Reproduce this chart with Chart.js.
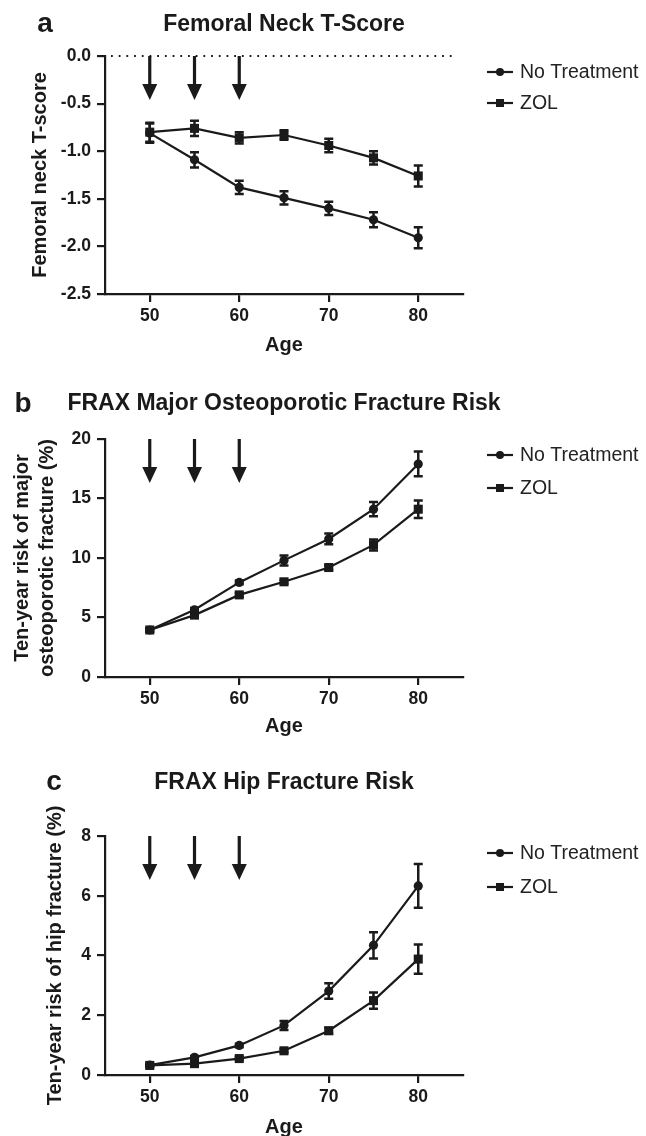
<!DOCTYPE html>
<html>
<head>
<meta charset="utf-8">
<script src="https://cdn.jsdelivr.net/npm/chart.js@4.4.0/dist/chart.umd.min.js"></script>
<style>
  html, body { margin: 0; padding: 0; background: #fff; overflow: hidden; }
  #page { position: relative; width: 646px; height: 1136px; }
  canvas { position: absolute; left: 0; }
</style>
</head>
<body>
<div id="page">
  <canvas id="panelA" width="646" height="380" style="top:0px"></canvas>
  <canvas id="panelB" width="646" height="380" style="top:380px"></canvas>
  <canvas id="panelC" width="646" height="400" style="top:760px"></canvas>
</div>
<script>
const ages = [50, 55, 60, 65, 70, 75, 80];
const treatmentAges = [50, 55, 60];
const ageTicks = [50, 60, 70, 80];
const seriesNames = ['No Treatment', 'ZOL'];

// a: femoral neck T-score (mean, error)
const tscoreNoTreatment = [-0.81, -1.09, -1.38, -1.49, -1.60, -1.72, -1.91];
const tscoreNoTreatmentErr = [0.10, 0.08, 0.07, 0.07, 0.07, 0.08, 0.11];
const tscoreZol = [-0.80, -0.76, -0.86, -0.83, -0.94, -1.07, -1.26];
const tscoreZolErr = [0.10, 0.08, 0.06, 0.05, 0.07, 0.07, 0.11];

// b: ten-year major osteoporotic fracture risk (%)
const mofNoTreatment = [3.95, 5.65, 7.95, 9.8, 11.6, 14.1, 17.9];
const mofNoTreatmentErr = [0.15, 0.15, 0.15, 0.42, 0.45, 0.6, 1.04];
const mofZol = [3.95, 5.2, 6.9, 8.0, 9.2, 11.1, 14.1];
const mofZolErr = [0.15, 0.15, 0.15, 0.15, 0.2, 0.46, 0.74];

// c: ten-year hip fracture risk (%)
const hipNoTreatment = [0.33, 0.59, 0.99, 1.66, 2.81, 4.34, 6.33];
const hipNoTreatmentErr = [0.05, 0.05, 0.06, 0.15, 0.26, 0.44, 0.73];
const hipZol = [0.32, 0.38, 0.55, 0.81, 1.48, 2.49, 3.88];
const hipZolErr = [0.05, 0.05, 0.05, 0.06, 0.1, 0.27, 0.49];

const INK = '#1a1a1a';
const FONT = "'Liberation Sans', Arial, sans-serif";

// error bars, arrows, zero line, titles and legend
const decorations = {
  id: 'decorations',
  beforeDatasetsDraw(chart) {
    const ctx = chart.ctx;
    const xs = chart.scales.x, ys = chart.scales.y;
    ctx.save();
    ctx.strokeStyle = INK;
    ctx.lineWidth = 2.5;
    chart.data.datasets.forEach(ds => {
      ds.data.forEach((p, i) => {
        const e = ds.errors[i];
        const x = xs.getPixelForValue(p.x);
        const y1 = ys.getPixelForValue(p.y + e);
        const y2 = ys.getPixelForValue(p.y - e);
        ctx.beginPath();
        ctx.moveTo(x, y1); ctx.lineTo(x, y2);
        ctx.moveTo(x - 4.5, y1); ctx.lineTo(x + 4.5, y1);
        ctx.moveTo(x - 4.5, y2); ctx.lineTo(x + 4.5, y2);
        ctx.stroke();
      });
    });
    ctx.restore();
  },
  afterDraw(chart, args, opts) {
    const ctx = chart.ctx;
    const area = chart.chartArea;
    const xs = chart.scales.x, ys = chart.scales.y;
    ctx.save();

    if (opts.zeroLine !== undefined) {
      const y = ys.getPixelForValue(opts.zeroLine);
      ctx.strokeStyle = INK;
      ctx.lineWidth = 1.8;
      ctx.setLineDash([1.8, 5.9]);
      ctx.beginPath();
      ctx.moveTo(area.left + 6, y); ctx.lineTo(area.right - 6, y);
      ctx.stroke();
      ctx.setLineDash([]);
    }

    // treatment arrows
    ctx.fillStyle = INK;
    ctx.strokeStyle = INK;
    treatmentAges.forEach(a => {
      const x = xs.getPixelForValue(a);
      const tip = area.top + 44;
      ctx.lineWidth = 3.2;
      ctx.beginPath();
      ctx.moveTo(x, area.top); ctx.lineTo(x, tip - 12);
      ctx.stroke();
      ctx.beginPath();
      ctx.moveTo(x - 7.5, tip - 16); ctx.lineTo(x + 7.5, tip - 16); ctx.lineTo(x, tip);
      ctx.closePath();
      ctx.fill();
    });

    // panel letter and title
    ctx.textBaseline = 'middle';
    ctx.fillStyle = INK;
    ctx.font = 'bold 28px ' + FONT;
    ctx.textAlign = 'center';
    ctx.fillText(opts.letter, opts.letterX, opts.letterY);
    ctx.font = 'bold 23px ' + FONT;
    ctx.fillText(opts.title, (area.left + area.right) / 2, opts.titleY);

    // legend
    ctx.font = '19.5px ' + FONT;
    ctx.textAlign = 'left';
    chart.data.datasets.forEach((ds, i) => {
      const y = opts.legendY[i];
      const x0 = area.right + 24;
      ctx.strokeStyle = INK;
      ctx.lineWidth = 2.2;
      ctx.beginPath();
      ctx.moveTo(x0, y); ctx.lineTo(x0 + 26, y);
      ctx.stroke();
      ctx.fillStyle = INK;
      if (ds.pointStyle === 'rect') {
        ctx.fillRect(x0 + 13 - 4, y - 4, 8, 8);
      } else {
        ctx.beginPath();
        ctx.arc(x0 + 13, y, 4, 0, Math.PI * 2);
        ctx.fill();
      }
      ctx.fillStyle = '#222';
      ctx.fillText(ds.label, x0 + 33, y + 1);
    });
    ctx.restore();
  }
};

function series(label, values, errors, style) {
  return {
    label: label,
    data: ages.map((a, i) => ({ x: a, y: values[i] })),
    errors: errors,
    borderColor: INK,
    backgroundColor: INK,
    borderWidth: 2.2,
    pointStyle: style,
    pointRadius: style === 'rect' ? 6.4 : 4.6,
    pointBorderWidth: 0,
    tension: 0
  };
}

function axisGrid() {
  return { drawOnChartArea: false, drawTicks: true, tickLength: 8, color: INK, lineWidth: 2.2 };
}

function buildPanel(id, p) {
  const canvas = document.getElementById(id);
  const padBottom = canvas.height - p.plotTop - p.plotHeight - p.xScaleHeight;
  return new Chart(canvas, {
    type: 'line',
    data: {
      datasets: [
        series(seriesNames[0], p.noTreatment, p.noTreatmentErr, 'circle'),
        series(seriesNames[1], p.zol, p.zolErr, 'rect')
      ]
    },
    options: {
      responsive: false,
      animation: false,
      layout: { padding: { left: 0, right: 183, top: p.plotTop, bottom: padBottom } },
      plugins: {
        legend: { display: false },
        tooltip: { enabled: false },
        decorations: {
          letter: p.letter, letterX: p.letterX, letterY: p.letterY,
          title: p.title, titleY: p.titleY,
          legendY: p.legendY, zeroLine: p.zeroLine
        }
      },
      scales: {
        x: {
          type: 'linear',
          min: 45, max: 85,
          afterBuildTicks: axis => { axis.ticks = ageTicks.map(v => ({ value: v })); },
          afterFit: s => { s.height = p.xScaleHeight; },
          grid: axisGrid(),
          border: { display: true, color: INK, width: 2.2 },
          ticks: { color: INK, padding: 4, font: { family: FONT, size: 17.5, weight: 'bold' } },
          title: { display: true, text: 'Age', color: INK, padding: 0,
                   font: { family: FONT, size: 20, weight: 'bold', lineHeight: 1.2 } }
        },
        y: {
          min: p.yMin, max: p.yMax,
          afterFit: s => { s.width = 105; },
          grid: axisGrid(),
          border: { display: true, color: INK, width: 2.2 },
          ticks: { color: INK, padding: 6, stepSize: p.yStep,
                   font: { family: FONT, size: 17.5, weight: 'bold' },
                   callback: v => p.yDecimals ? v.toFixed(p.yDecimals) : String(v) },
          title: { display: true, text: p.yTitle, color: INK, padding: { top: p.yTitlePad, bottom: 0 },
                   font: { family: FONT, size: 20, weight: 'bold', lineHeight: 1.25 } }
        }
      }
    },
    plugins: [decorations]
  });
}

buildPanel('panelA', {
  letter: 'a', letterX: 45, letterY: 24, title: 'Femoral Neck T-Score', titleY: 24.5,
  legendY: [72, 103], zeroLine: 0,
  plotTop: 56, plotHeight: 238, xScaleHeight: 63,
  yMin: -2.5, yMax: 0, yStep: 0.5, yDecimals: 1,
  yTitle: 'Femoral neck T-score', yTitlePad: 28,
  noTreatment: tscoreNoTreatment, noTreatmentErr: tscoreNoTreatmentErr,
  zol: tscoreZol, zolErr: tscoreZolErr
});

buildPanel('panelB', {
  letter: 'b', letterX: 23, letterY: 24, title: 'FRAX Major Osteoporotic Fracture Risk', titleY: 24,
  legendY: [75, 108],
  plotTop: 59, plotHeight: 238, xScaleHeight: 61,
  yMin: 0, yMax: 20, yStep: 5, yDecimals: 0,
  yTitle: ['Ten-year risk of major', 'osteoporotic fracture (%)'], yTitlePad: 10,
  noTreatment: mofNoTreatment, noTreatmentErr: mofNoTreatmentErr,
  zol: mofZol, zolErr: mofZolErr
});

buildPanel('panelC', {
  letter: 'c', letterX: 54, letterY: 22, title: 'FRAX Hip Fracture Risk', titleY: 22.5,
  legendY: [93, 127],
  plotTop: 76, plotHeight: 239, xScaleHeight: 64,
  yMin: 0, yMax: 8, yStep: 2, yDecimals: 0,
  yTitle: 'Ten-year risk of hip fracture (%)', yTitlePad: 43,
  noTreatment: hipNoTreatment, noTreatmentErr: hipNoTreatmentErr,
  zol: hipZol, zolErr: hipZolErr
});
</script>
</body>
</html>
